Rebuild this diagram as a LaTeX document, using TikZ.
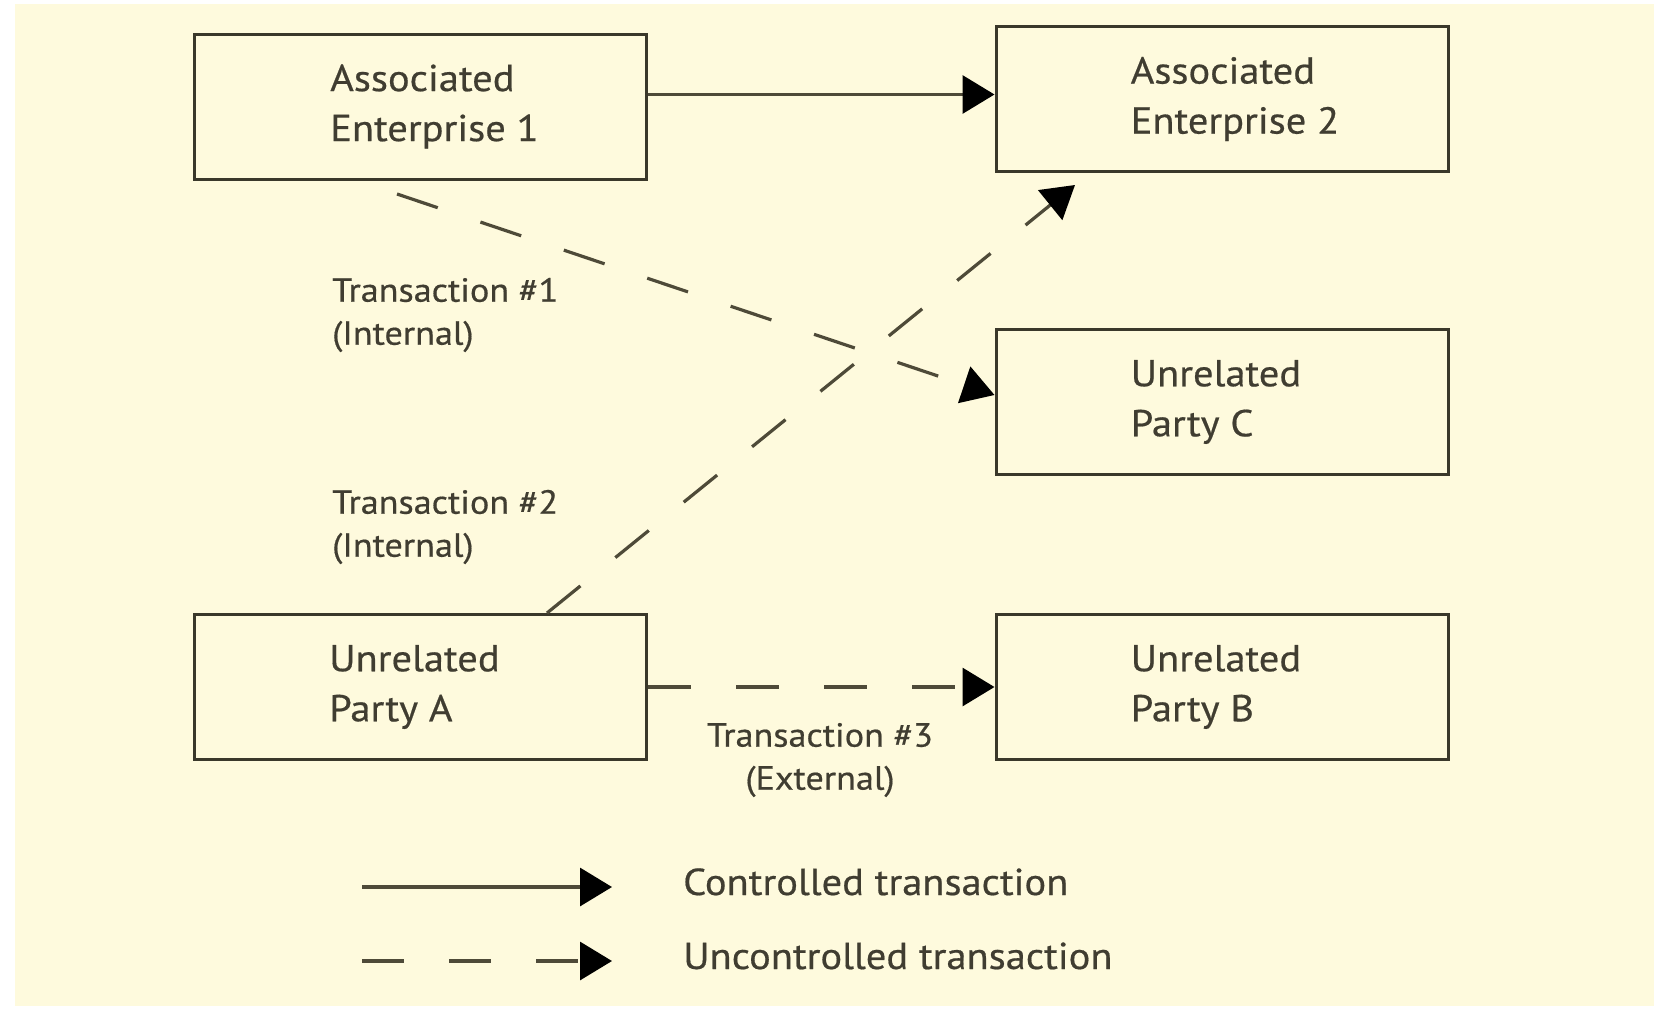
\documentclass[tikz,border=0pt]{standalone}
\usepackage{fontspec}
\setmainfont[FakeStretch=1.08,FakeBold=0.5]{PT Sans}
\usetikzlibrary{arrows.meta}

\definecolor{paper}{RGB}{254,250,221}
\definecolor{ink}{RGB}{58,56,42}
\definecolor{linec}{RGB}{78,74,56}
\definecolor{txt}{RGB}{64,61,49}

\begin{document}
\begin{tikzpicture}[x=1pt,y=-1pt,
  box/.style={draw=ink, line width=3pt, minimum width=452pt, minimum height=145pt, inner sep=0pt},
  boxtext/.style={anchor=west, align=left, text=txt, inner sep=0pt,
    font=\fontsize{37.5}{50}\selectfont},
  lbl/.style={text=txt, inner sep=0pt, font=\fontsize{33.5}{43}\selectfont},
  legendtext/.style={anchor=base west, text=txt, inner sep=0pt,
    font=\fontsize{37.5}{44}\selectfont},
  conn/.style={draw=linec, line width=3.2pt,
    -{Triangle[length=32pt,width=38pt,color=black]}},
  dashedconn/.style={conn, dash pattern=on 43pt off 45pt},
]
% page and paper
\useasboundingbox (0,0) rectangle (1660,1009);
\fill[white] (0,0) rectangle (1660,1009);
\fill[paper] (15,4) rectangle (1654,1006);

% entities
\node[box] (ae1) at (420.5,106.5) {};
\node[box] (ae2) at (1222,99) {};
\node[box] (upc) at (1222,402) {};
\node[box] (upa) at (420.5,687) {};
\node[box] (upb) at (1222,687) {};

\node[boxtext] (ae1t) at ([xshift=137pt]ae1.west) {Associated\\Enterprise 1};
\node[boxtext] (ae2t) at ([xshift=136pt]ae2.west) {Associated\\Enterprise 2};
\node[boxtext] (upct) at ([xshift=136pt]upc.west) {Unrelated\\Party C};
\node[boxtext] (upat) at ([xshift=136pt]upa.west) {Unrelated\\Party A};
\node[boxtext] (upbt) at ([xshift=136pt]upb.west) {Unrelated\\Party B};

% free ends of the diagonal transactions
\coordinate (t1start) at (397,194);
\coordinate (t2end) at (1075,185);

% transactions
\draw[conn] ([yshift=12pt]ae1.east) -- ([yshift=12pt]ae1.east -| ae2.west);
\draw[dashedconn] (t1start) -- ([yshift=7pt]upc.west);
\draw[dashedconn] ([xshift=126.5pt]upa.north) -- (t2end);
\draw[dashedconn] (upa.east) -- (upb.west);

% transaction labels
\node[lbl, anchor=west, align=left] (t1l) at (332,315) {Transaction \#1\\(Internal)};
\node[lbl, anchor=west, align=left] (t2l) at (332,527) {Transaction \#2\\(Internal)};
\node[lbl, align=center] (t3l) at (820,760) {Transaction \#3\\(External)};

% legend
\coordinate (lg1s) at (362,887);
\coordinate (lg1e) at (612,887);
\coordinate (lg2s) at (362,961);
\coordinate (lg2e) at (612,961);
\draw[conn] (lg1s) -- (lg1e);
\draw[conn, dash pattern=on 42pt off 45pt] (lg2s) -- (lg2e);
\node[legendtext] (lg1t) at (683,895) {Controlled transaction};
\node[legendtext] (lg2t) at (683,969) {Uncontrolled transaction};
\end{tikzpicture}
\end{document}
